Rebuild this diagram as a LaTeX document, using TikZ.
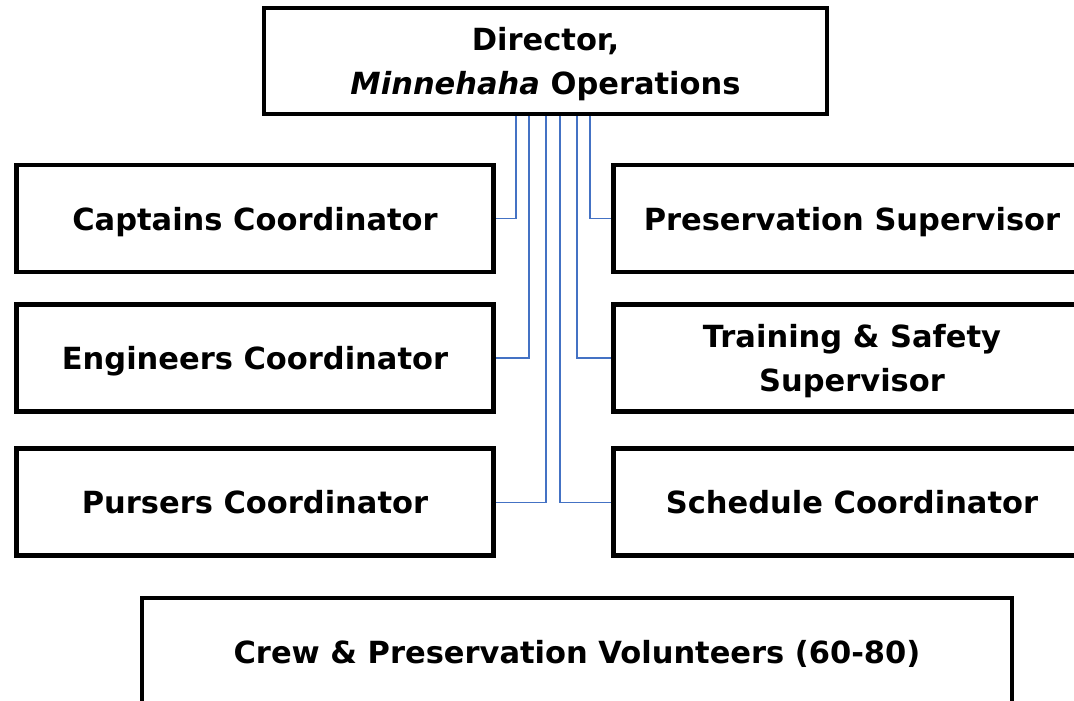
\documentclass[tikz,border=0pt]{standalone}
\usepackage{fontspec}
\setmainfont{DejaVu Sans}
\usetikzlibrary{backgrounds}
\definecolor{linkblue}{RGB}{68,114,196}
\begin{document}
\begin{tikzpicture}[x=1pt,y=-1pt,
  box/.style={draw=black,line width=4.5pt,fill=white,rectangle,inner sep=0pt,
    font=\fontsize{30.5}{44}\selectfont\bfseries,align=center,text depth=0pt},
  side/.style={box,minimum width=477pt,minimum height=107pt},
  link/.style={draw=linkblue,line width=1.3pt}]
\useasboundingbox (0,0) rectangle (1074,701);

% head of the organisation
\node[box,minimum width=563pt,minimum height=106pt] (dir) at (545.5,61)
  {Director,\\\textit{Minnehaha} Operations};

% left column
\node[side] (capt) at (255,218.6) {Captains Coordinator};
\node[side] (eng)  at (255,358)   {Engineers Coordinator};
\node[side] (purs) at (255,502.2) {Pursers Coordinator};

% right column
\node[side] (pres)  at (852,218.6) {Preservation Supervisor};
\node[side] (train) at (852,358)   {Training \& Safety\\Supervisor};
\node[side] (sched) at (852,502.2) {Schedule Coordinator};

% volunteers
\node[box,minimum width=870pt,minimum height=108pt] (crew) at (577,652)
  {Crew \& Preservation Volunteers (60-80)};

% reporting lines
\begin{pgfonlayer}{background}
\draw[link] ([xshift=-29.5pt]dir.south) |- (capt.east);
\draw[link] ([xshift=-16.5pt]dir.south) |- (eng.east);
\draw[link] ([xshift=0.5pt]dir.south)   |- (purs.east);
\draw[link] ([xshift=14.5pt]dir.south)  |- (sched.west);
\draw[link] ([xshift=31.5pt]dir.south)  |- (train.west);
\draw[link] ([xshift=44.5pt]dir.south)  |- (pres.west);
\end{pgfonlayer}
\end{tikzpicture}
\end{document}
